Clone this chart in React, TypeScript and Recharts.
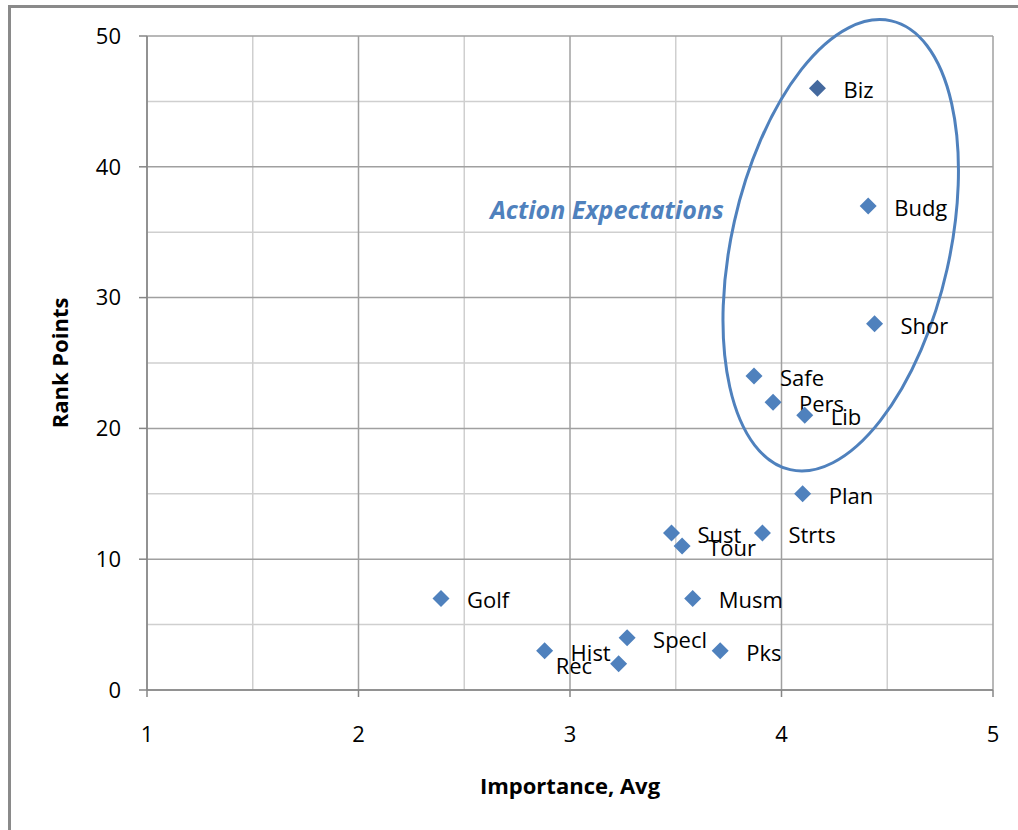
import { ScatterChart, Scatter, XAxis, YAxis, CartesianGrid } from 'recharts';

// Survey items: average importance vs. rank points
const names = ['Biz', 'Budg', 'Shor', 'Safe', 'Pers', 'Lib', 'Plan', 'Strts', 'Sust', 'Tour', 'Musm', 'Golf', 'Specl', 'Pks', 'Hist', 'Rec'];
const importance = [4.17, 4.41, 4.44, 3.87, 3.96, 4.11, 4.10, 3.91, 3.48, 3.53, 3.58, 2.39, 3.27, 3.71, 2.88, 3.23];
const rankPoints = [46, 37, 28, 24, 22, 21, 15, 12, 12, 11, 7, 7, 4, 3, 3, 2];

const xTicks = [1, 2, 3, 4, 5];
const yTicks = [0, 10, 20, 30, 40, 50];
const xMinor = [1.5, 2.5, 3.5, 4.5];
const yMinor = [5, 15, 25, 35, 45];

// annotation: ellipse centre and caption anchor, in data units
const ellipseCenter = [{ x: 4.28, y: 34 }];
const captionAnchor = [{ x: 3.175, y: 36.8, text: 'Action Expectations' }];

const points = names.map((name, i) => ({ name, x: importance[i], y: rankPoints[i] }));

const BLUE = '#4F81BD';
const FONT = '"Open Sans", sans-serif';

function Diamond(props: any) {
  const { cx, cy, payload } = props;
  const r = 8.5;
  const fill = payload.name === 'Biz' ? '#44699E' : BLUE;
  // Rec's label was dragged to the left of its marker
  const dx = payload.name === 'Rec' ? -63 : 26;
  return (
    <g>
      <polygon
        points={`${cx},${cy - r} ${cx + r},${cy} ${cx},${cy + r} ${cx - r},${cy}`}
        fill={fill}
      />
      <text
        x={cx + dx}
        y={cy + 1}
        dominantBaseline="central"
        fontSize={22}
        fontFamily={FONT}
        fill="#000"
      >
        {payload.name}
      </text>
    </g>
  );
}

function EllipseShape(props: any) {
  const { cx, cy } = props;
  return (
    <ellipse
      cx={cx}
      cy={cy}
      rx={109}
      ry={230}
      transform={`rotate(12.7 ${cx} ${cy})`}
      fill="none"
      stroke={BLUE}
      strokeWidth={3}
    />
  );
}

function Caption(props: any) {
  const { cx, cy, payload } = props;
  return (
    <text
      x={cx}
      y={cy}
      textAnchor="middle"
      dominantBaseline="central"
      fontSize={25}
      fontFamily={FONT}
      fontWeight="bold"
      fontStyle="italic"
      fill={BLUE}
    >
      {payload.text}
    </text>
  );
}

export default function App() {
  return (
    <div
      style={{
        position: 'absolute',
        left: 8,
        top: 5,
        width: 1010,
        height: 825,
        borderTop: '3px solid #8a8a8a',
        borderLeft: '3px solid #8a8a8a',
        background: '#fff',
      }}
    >
      <ScatterChart
        width={1007}
        height={822}
        margin={{ top: 28, right: 25, left: 46, bottom: 60 }}
      >
        <CartesianGrid
          horizontalValues={yMinor}
          verticalValues={xMinor}
          stroke="#cfcfcf"
          strokeWidth={1.5}
        />
        <CartesianGrid
          horizontalValues={yTicks}
          verticalValues={xTicks}
          stroke="#a0a0a0"
          strokeWidth={1.5}
        />
        <XAxis
          type="number"
          dataKey="x"
          domain={[1, 5]}
          ticks={xTicks}
          height={80}
          tickSize={7}
          tickMargin={29}
          stroke="#868686"
          strokeWidth={1.5}
          tick={{ fill: '#000', fontSize: 22, fontFamily: FONT }}
          label={{
            value: 'Importance, Avg',
            position: 'bottom',
            offset: 8,
            fill: '#000',
            fontSize: 22,
            fontWeight: 'bold',
            fontFamily: FONT,
          }}
        />
        <YAxis
          type="number"
          dataKey="y"
          domain={[0, 50]}
          ticks={yTicks}
          width={90}
          tickSize={8}
          tickMargin={18}
          stroke="#868686"
          strokeWidth={1.5}
          tick={{ fill: '#000', fontSize: 22, fontFamily: FONT }}
          label={{
            value: 'Rank Points',
            angle: -90,
            position: 'insideLeft',
            offset: 3,
            fill: '#000',
            fontSize: 22,
            fontWeight: 'bold',
            fontFamily: FONT,
            style: { textAnchor: 'middle' },
          }}
        />
        <Scatter data={ellipseCenter} shape={EllipseShape} isAnimationActive={false} />
        <Scatter data={captionAnchor} shape={Caption} isAnimationActive={false} />
        <Scatter data={points} shape={Diamond} isAnimationActive={false} />
      </ScatterChart>
    </div>
  );
}
